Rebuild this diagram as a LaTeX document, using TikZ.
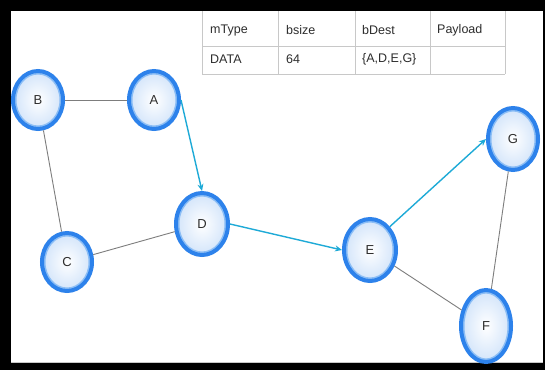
\documentclass[tikz,border=0pt]{standalone}
\usepackage{fontspec}
\setmainfont{Liberation Sans}
\usetikzlibrary{shapes.geometric,arrows.meta,calc}
\definecolor{ringblue}{RGB}{45,130,235}
\definecolor{glowblue}{RGB}{140,190,245}
\definecolor{paleblue}{RGB}{210,228,250}
\definecolor{linkcyan}{RGB}{30,170,215}
\definecolor{linkgray}{RGB}{125,125,125}
\definecolor{gridgray}{RGB}{200,200,200}
\definecolor{txtgray}{RGB}{45,45,45}
\tikzset{
  peer/.style={ellipse, draw=ringblue, line width=4pt, inner sep=0pt,
    minimum width=50pt, minimum height=58pt,
    inner color=white, outer color=paleblue,
    path picture={
      \draw[glowblue, line width=7pt]
        let \p1 = ($(path picture bounding box.north east)-(path picture bounding box.center)$)
        in (path picture bounding box.center) ellipse [x radius=\x1, y radius=\y1];
    },
    font=\fontsize{13}{15}\selectfont, text=txtgray},
  plain link/.style={draw=linkgray, line width=0.9pt},
  data link/.style={draw=linkcyan, line width=1.4pt, -{Stealth[length=7pt,width=6pt]}},
  cell/.style={anchor=west, font=\fontsize{12.5}{14}\selectfont, text=txtgray, inner sep=0pt},
  grid line/.style={draw=gridgray, line width=0.8pt}
}
\begin{document}
\begin{tikzpicture}[x=1pt,y=-1pt]
  % frame
  \fill[black] (0,0) rectangle (545,370);
  \fill[white] (11,11) rectangle (543,363);
  \draw[gridgray, line width=0.8pt] (11,362) -- (543,362);
  \useasboundingbox (0,0) rectangle (545,370);

  % header table
  \draw[grid line] (202,11) -- (202,74) (278,11) -- (278,74) (355,11) -- (355,74)
    (430,11) -- (430,74) (505,11) -- (505,74);
  \draw[grid line] (202,46) -- (505,46) (202,74) -- (505,74);
  \node[cell] (h1) at (210,30) {mType};
  \node[cell] (h2) at (286,30) {bsize};
  \node[cell] (h3) at (362,30) {bDest};
  \node[cell] (h4) at (437,30) {Payload};
  \node[cell] (d1) at (210,59) {DATA};
  \node[cell] (d2) at (286,59) {64};
  \node[cell] (d3) at (362,59) {\{A,D,E,G\}};

  % peers
  \node[peer] (B) at (38,100) {B};
  \node[peer] (A) at (154,100) {A};
  \node[peer] (C) at (67,262) {C};
  \node[peer, minimum width=52pt, minimum height=62pt] (D) at (202,224) {D};
  \node[peer, minimum width=52pt, minimum height=62pt] (E) at (370,250) {E};
  \node[peer, minimum width=50pt, minimum height=62pt] (G) at (513,139) {G};
  \node[peer, minimum width=50pt, minimum height=72pt] (F) at (486,326) {F};

  % links
  \draw[plain link] (B) -- (A);
  \draw[plain link] (B) -- (C);
  \draw[plain link] (C) -- (D);
  \draw[plain link] (E) -- (F);
  \draw[plain link] (G) -- (F);

  % forwarding path
  \draw[data link] (A.east) -- (D.north);
  \draw[data link] (D.east) -- (E.west);
  \draw[data link] (E.north east) -- (G.west);
\end{tikzpicture}
\end{document}
